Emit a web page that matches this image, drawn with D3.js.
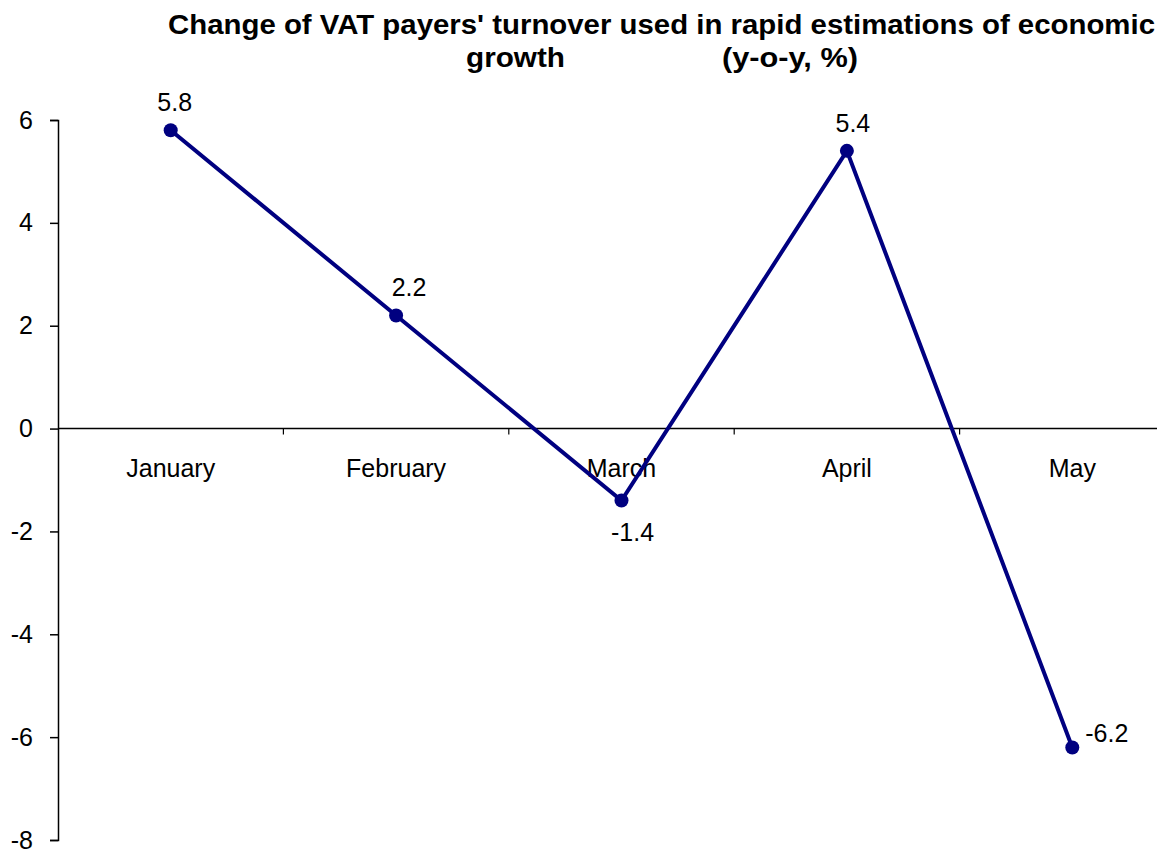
<!DOCTYPE html>
<html>
<head>
    <meta charset="utf-8">
    <style>
        body {
            margin: 0;
            background: white;
            font-family: 'Liberation Sans', Arial, sans-serif;
        }
        svg {
            display: block;
        }
        .title {
            font-weight: bold;
            font-size: 28px;
        }
        .tick text {
            font-size: 25px;
            font-family: 'Liberation Sans', Arial, sans-serif;
        }
    </style>
</head>
<body>
<svg width="1164" height="850"></svg>

<script src="https://d3js.org/d3.v7.min.js"></script>
<script>
    // values
    let months = ["January", "February", "March", "April", "May"]
    let turnover = [5.8, 2.2, -1.4, 5.4, -6.2]
    let yTicks = [-8, -6, -4, -2, 0, 2, 4, 6]

    let svg = d3.select("svg")

    let x = d3.scaleBand()
        .domain(months)
        .range([58, 1185])

    let y = d3.scaleLinear()
        .domain([-8, 6])
        .range([840, 120])

    // title
    svg.append("text")
        .attr("class", "title")
        .attr("x", 168)
        .attr("y", 34)
        .attr("textLength", 987)
        .attr("lengthAdjust", "spacingAndGlyphs")
        .text("Change of VAT payers' turnover used in rapid estimations of economic")

    svg.append("text")
        .attr("class", "title")
        .attr("x", 466)
        .attr("y", 67)
        .attr("textLength", 99)
        .attr("lengthAdjust", "spacingAndGlyphs")
        .text("growth")

    svg.append("text")
        .attr("class", "title")
        .attr("x", 722)
        .attr("y", 67)
        .attr("textLength", 136)
        .attr("lengthAdjust", "spacingAndGlyphs")
        .text("(y-o-y, %)")

    // y axis
    let yAxis = svg.append("g")
        .attr("transform", "translate(58,0)")
        .call(d3.axisLeft(y).tickValues(yTicks).tickFormat(d => String(d))
            .tickSize(8).tickSizeOuter(8).tickPadding(17))
    yAxis.selectAll("path, line").attr("stroke", "#000").attr("stroke-width", 1.5)
    yAxis.selectAll("text").attr("fill", "#000")

    // x axis on the zero line, labels below
    let xAxis = svg.append("g")
        .attr("transform", "translate(0," + y(0) + ")")
        .call(d3.axisBottom(x).tickSize(0).tickPadding(31))
    xAxis.select(".domain").attr("d", "M58,0H1157").attr("stroke", "#000").attr("stroke-width", 1.5)
    xAxis.selectAll("text").attr("fill", "#000")

    // small ticks between categories
    svg.selectAll(".xtick")
        .data(months.slice(1))
        .join("line")
        .attr("class", "xtick")
        .attr("x1", d => x(d))
        .attr("x2", d => x(d))
        .attr("y1", y(0))
        .attr("y2", y(0) + 6)
        .attr("stroke", "#000")
        .attr("stroke-width", 1.2)

    let cx = d => x(d) + x.bandwidth() / 2

    let line = d3.line()
        .x((d, i) => cx(months[i]))
        .y(d => y(d))

    svg.append("path")
        .datum(turnover)
        .attr("d", line)
        .style("fill", "none")
        .style("stroke", "#000080")
        .style("stroke-width", 4)

    svg.selectAll(".dot")
        .data(turnover)
        .join("circle")
        .attr("class", "dot")
        .attr("cx", (d, i) => cx(months[i]))
        .attr("cy", d => y(d))
        .attr("r", 7)
        .style("fill", "#000080")

    // data labels: above, except March below and May to the right
    let nudgeX = [4, 13, 11, 6, 13]
    svg.selectAll(".lbl")
        .data(turnover)
        .join("text")
        .attr("class", "lbl")
        .attr("x", (d, i) => cx(months[i]) + nudgeX[i])
        .attr("y", (d, i) => {
            if (i == 2) return y(d) + 40
            if (i == 4) return y(d) - 5
            return y(d) - 19
        })
        .attr("text-anchor", (d, i) => i == 4 ? "start" : "middle")
        .style("font-size", "25px")
        .text(d => d)
</script>
</body>
</html>
